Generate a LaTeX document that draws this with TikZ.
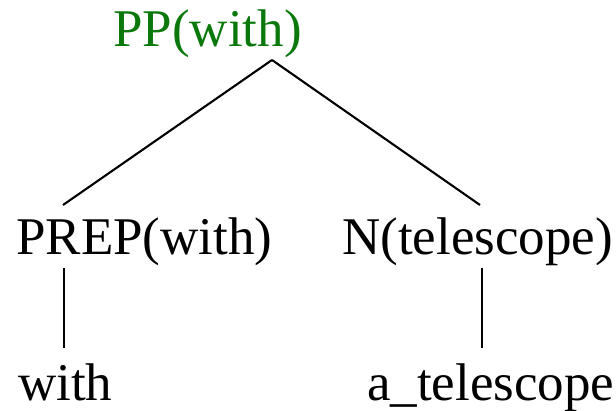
\documentclass[tikz,border=0pt]{standalone}
\usepackage{fontspec}
\setmainfont{Liberation Serif}
\definecolor{ppgreen}{RGB}{10,120,10}
\begin{document}
\begin{tikzpicture}[x=1pt,y=1pt,
  lbl/.style={inner sep=0pt,anchor=base west,font=\fontsize{53}{60}\selectfont},
  edge/.style={line width=2.1pt,black}]
\useasboundingbox (0,0) rectangle (616,410);
\node[lbl,text=ppgreen] (pp) at (113,363) {PP(with)};
\node[lbl] (prep) at (16,155) {PREP(with)};
\node[lbl] (n) at (342,155) {N(telescope)};
\node[lbl] (with) at (18,10) {with};
\node[lbl] (tel) at (367,10) {a\_telescope};
\coordinate (ppfoot) at (272,350);
\coordinate (preptop) at (63,205);
\coordinate (ntop) at (480,205);
\coordinate (prepfoot) at (64,142);
\coordinate (withtop) at (64,62);
\coordinate (nfoot) at (482,142);
\coordinate (teltop) at (482,62);
\draw[edge] (ppfoot) -- (preptop);
\draw[edge] (ppfoot) -- (ntop);
\draw[edge] (prepfoot) -- (withtop);
\draw[edge] (nfoot) -- (teltop);
\end{tikzpicture}
\end{document}
